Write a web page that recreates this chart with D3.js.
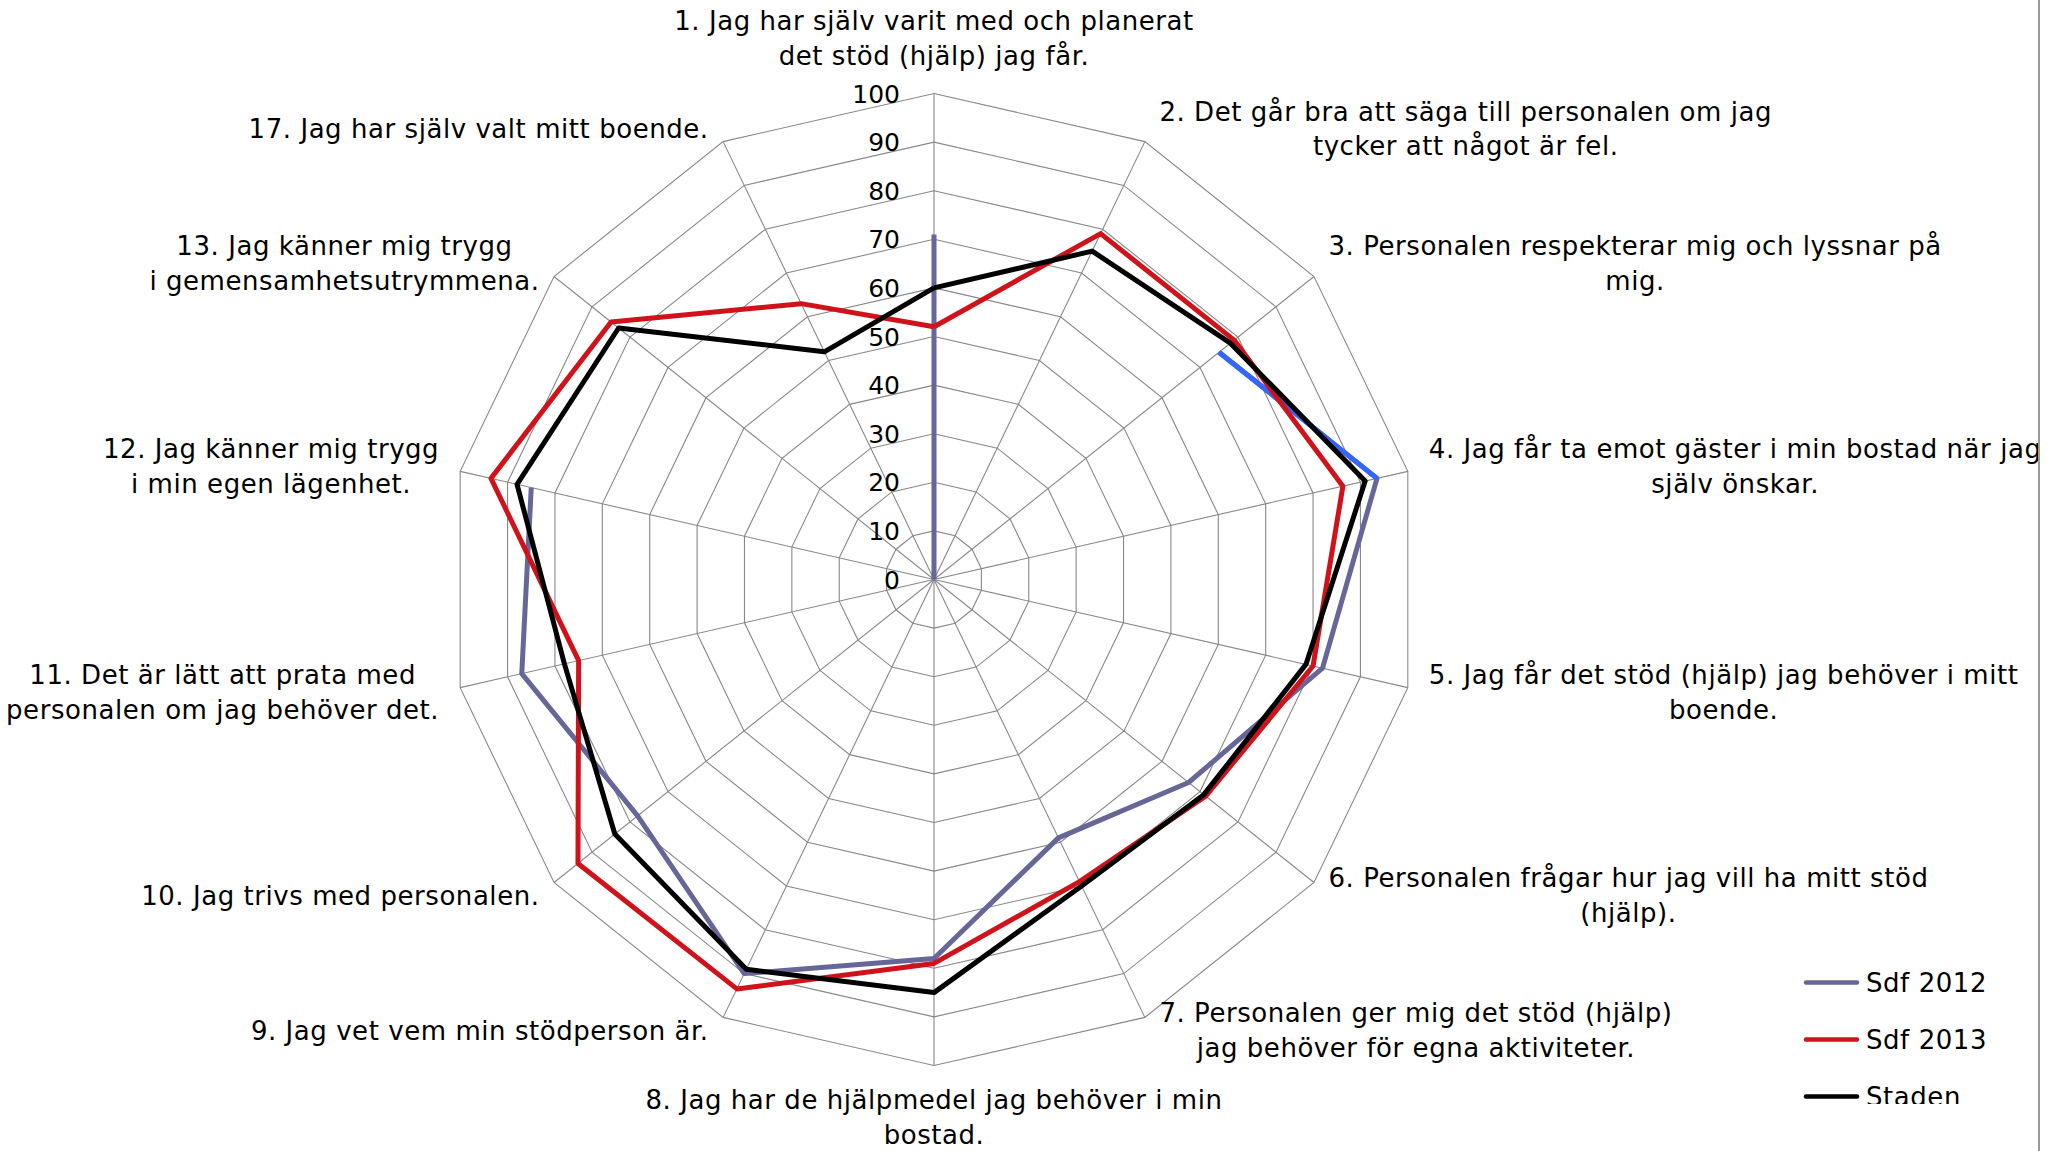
<!DOCTYPE html>
<html>
<head>
<meta charset="utf-8">
<script src="https://cdn.jsdelivr.net/npm/d3@7"></script>
<style>
  html, body { margin: 0; padding: 0; background: #ffffff; }
  svg { display: block; }
  text { font-family: "DejaVu Sans", Verdana, sans-serif; fill: #000; }
</style>
</head>
<body>
<svg id="chart" width="2065" height="1151"></svg>
<script>
// Survey statements (one spoke each), already split into display lines
const categories = [
  ["1. Jag har själv varit med och planerat", "det stöd (hjälp) jag får."],
  ["2. Det går bra att säga till personalen om jag", "tycker att något är fel."],
  ["3. Personalen respekterar mig och lyssnar på", "mig."],
  ["4. Jag får ta emot gäster i min bostad när jag", "själv önskar."],
  ["5. Jag får det stöd (hjälp) jag behöver i mitt", "boende."],
  ["6. Personalen frågar hur jag vill ha mitt stöd", "(hjälp)."],
  ["7. Personalen ger mig det stöd (hjälp)", "jag behöver för egna aktiviteter."],
  ["8. Jag har de hjälpmedel jag behöver i min", "bostad."],
  ["9. Jag vet vem min stödperson är."],
  ["10. Jag trivs med personalen."],
  ["11. Det är lätt att prata med", "personalen om jag behöver det."],
  ["12. Jag känner mig trygg", "i min egen lägenhet."],
  ["13. Jag känner mig trygg", "i gemensamhetsutrymmena."],
  ["17. Jag har själv valt mitt boende."]
];

const tickValues = [0, 10, 20, 30, 40, 50, 60, 70, 80, 90, 100];

const seriesNames = ["Sdf 2012", "Sdf 2013", "Staden"];
// Percent per statement; null = no answer for that year
const sdf2012 = [71, null, 75, 93.5, 82, 67, 59, 78, 90, 78, 87, 85, null, 0];
const sdf2013 = [52, 79, 79, 86.3, 80, 71.5, 69, 79, 93.5, 93.7, 75, 93.5, 85, 63];
const staden  = [60, 75, 78, 91, 78.5, 71, 70, 85, 89, 84, 78, 88, 83, 52];

// ---- layout ----
const W = 2065, H = 1151;
const cx = 934, cy = 579.5, R = 486;
const FONT = 26, TICK_FONT = 25, LINE_H = 35, SPACING = "0.55px";
const seriesColors = ["#666699", "#d0121b", "#000000"];
const series = [sdf2012, sdf2013, staden];
const LINE_W = 5;

const svg = d3.select("#chart");
const defs = svg.append("defs");
defs.append("clipPath").attr("id", "area")
  .append("rect").attr("x", 0).attr("y", 0).attr("width", 2038).attr("height", H);

const root = svg.append("g").attr("clip-path", "url(#area)");
const g = root.append("g").attr("transform", `translate(${cx},${cy})`);

const n = categories.length;
const angle = d3.scaleLinear().domain([0, n]).range([0, 2 * Math.PI]);
const r = d3.scaleLinear().domain([0, 100]).range([0, R]);

// grid rings
const ring = d3.lineRadial()
  .angle((d, i) => angle(i))
  .radius(d => r(d))
  .curve(d3.curveLinearClosed);

g.append("g").selectAll("path")
  .data(tickValues.filter(v => v > 0))
  .join("path")
  .attr("d", v => ring(d3.range(n).map(() => v)))
  .attr("fill", "none")
  .attr("stroke", "#888888")
  .attr("stroke-width", 1.1);

// spokes
g.append("g").selectAll("line")
  .data(d3.range(n))
  .join("line")
  .attr("x1", 0).attr("y1", 0)
  .attr("x2", i => r(100) * Math.sin(angle(i)))
  .attr("y2", i => -r(100) * Math.cos(angle(i)))
  .attr("stroke", "#888888")
  .attr("stroke-width", 1.1);

// value axis labels along the first spoke
g.append("g").selectAll("text")
  .data(tickValues)
  .join("text")
  .attr("x", -34)
  .attr("y", v => -r(v))
  .attr("dy", "0.36em")
  .attr("text-anchor", "end")
  .attr("font-size", TICK_FONT)
  .text(v => v);

// series lines (closed loop, gaps where no value)
const radial = d3.lineRadial()
  .defined(d => d.v != null)
  .angle(d => angle(d.i))
  .radius(d => r(d.v))
  .curve(d3.curveLinear);

const loop = vals => vals.map((v, i) => ({ i, v })).concat([{ i: n, v: vals[0] }]);

const lines = g.append("g");
series.forEach((vals, k) => {
  lines.append("path")
    .attr("d", radial(loop(vals)))
    .attr("fill", "none")
    .attr("stroke", seriesColors[k])
    .attr("stroke-width", LINE_W)
    .attr("stroke-linejoin", "round");
  if (k === 0) {
    // one segment of the 2012 line is formatted in a brighter blue
    const seg = [2, 3].map(i => ({ i, v: vals[i] }));
    lines.append("path")
      .attr("d", radial(seg))
      .attr("fill", "none")
      .attr("stroke", "#3366ff")
      .attr("stroke-width", LINE_W)
      .attr("stroke-linejoin", "round");
  }
});

// category labels around the outside
categories.forEach((lbl, i) => {
  const a = angle(i);
  const s = Math.sin(a), c = Math.cos(a);
  const vx = R * s, vy = -R * c;            // outer vertex of the spoke
  const lg = g.append("g");
  const texts = lg.selectAll("text").data(lbl).join("text")
    .attr("x", 0)
    .attr("y", (d, j) => j * LINE_H)
    .attr("dy", "0.36em")
    .attr("text-anchor", "middle")
    .attr("font-size", FONT)
    .attr("letter-spacing", SPACING)
    .text(d => d);
  let w = 0;
  texts.each(function () { w = Math.max(w, this.getComputedTextLength()); });
  const blockH = lbl.length * LINE_H;
  let tx, ty;
  if (Math.abs(s) < 1e-6) {
    if (c > 0) { tx = 0; ty = vy - 20 - blockH + LINE_H / 2; }
    else { tx = 0; ty = vy + 20 + LINE_H / 2 - 3; }
  } else {
    const ox = Math.sign(s) * (Math.abs(s) > 0.95 ? 21 : 14.5);
    const oy = -Math.sign(c) * 13 * Math.min(1, Math.abs(c) / 0.6);
    const ax = vx + ox, ay = vy + oy;
    tx = s > 0 ? ax + w / 2 : ax - w / 2;
    ty = ay - (lbl.length - 1) * LINE_H / 2;
  }
  lg.attr("transform", `translate(${tx},${ty})`);
});

// right edge of the chart area
svg.append("line")
  .attr("x1", 2039).attr("x2", 2039).attr("y1", 0).attr("y2", H)
  .attr("stroke", "#9a9a9a").attr("stroke-width", 2);

// legend
defs.append("clipPath").attr("id", "legendClip")
  .append("rect").attr("x", 1790).attr("y", 950).attr("width", 240).attr("height", 154);
const legend = svg.append("g").attr("clip-path", "url(#legendClip)");
const legendY = d3.scalePoint().domain(seriesNames).range([982.5, 1096.5]);
seriesNames.forEach((name, k) => {
  const y = legendY(name);
  legend.append("line")
    .attr("x1", 1806).attr("x2", 1857).attr("y1", y).attr("y2", y)
    .attr("stroke", seriesColors[k]).attr("stroke-width", 4.5)
    .attr("stroke-linecap", "round");
  legend.append("text")
    .attr("x", 1866).attr("y", y).attr("dy", "0.36em")
    .attr("font-size", FONT)
    .attr("letter-spacing", SPACING)
    .text(name);
});
</script>
</body>
</html>
